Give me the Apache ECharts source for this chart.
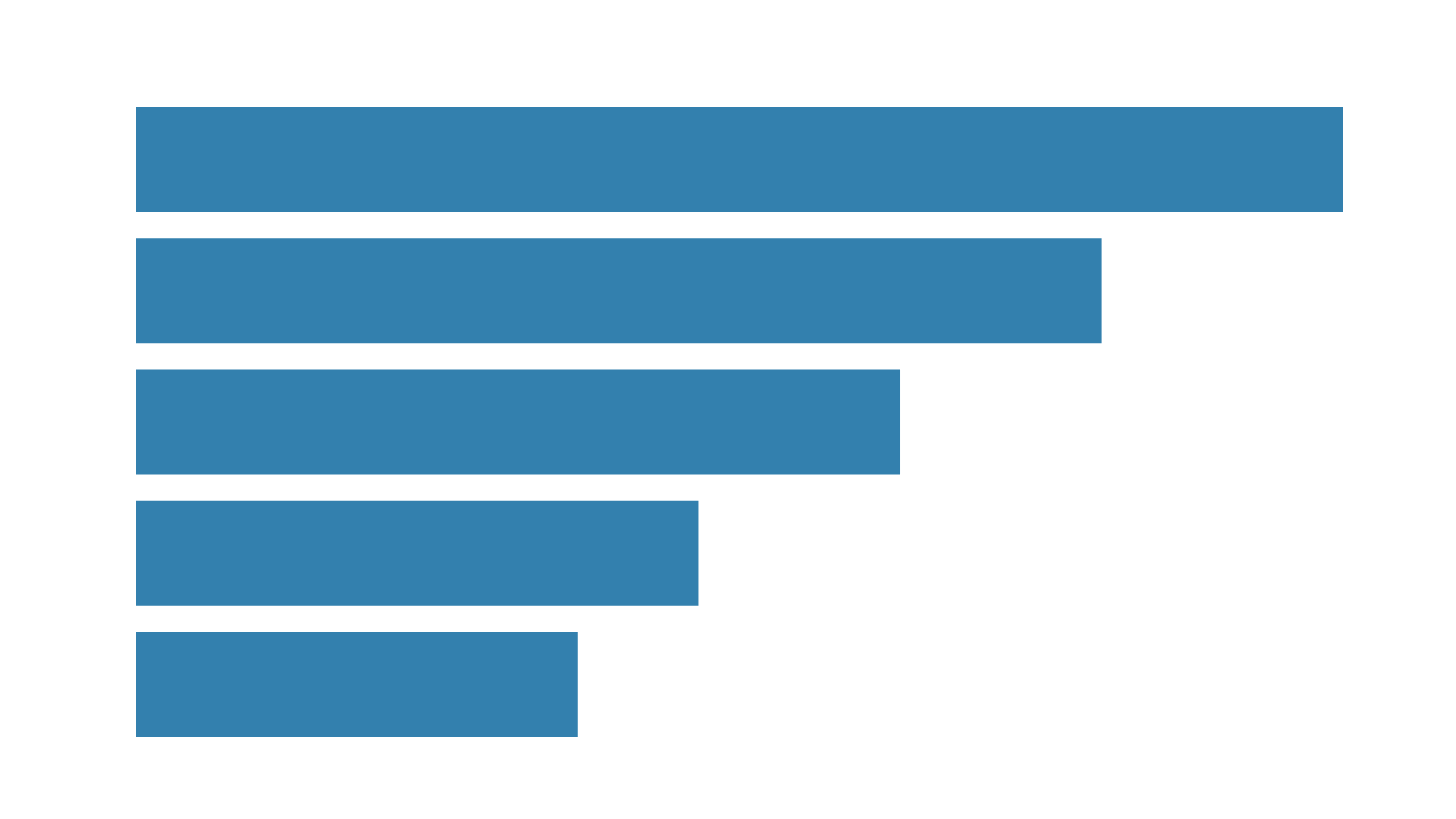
<!DOCTYPE html>
<html>
<head>
<meta charset="utf-8">
<script src="https://cdn.jsdelivr.net/npm/echarts@6/dist/echarts.min.js"></script>
<style>
html,body{margin:0;padding:0;background:#fff;}
#chart{width:1456px;height:819px;}
</style>
</head>
<body>
<div id="chart"></div>
<script>
var categories = ['A', 'B', 'C', 'D', 'E'];
var values = [100, 80, 63.3, 46.6, 36.6];
var axisMax = 100;

var chart = echarts.init(document.getElementById('chart'), null, {renderer: 'canvas'});
chart.setOption({
  animation: false,
  backgroundColor: '#ffffff',
  grid: {left: 136, right: 113, top: 94, bottom: 69, containLabel: false},
  xAxis: {
    type: 'value', min: 0, max: axisMax,
    show: false
  },
  yAxis: {
    type: 'category', data: categories, inverse: true,
    show: false
  },
  series: [{
    type: 'bar',
    data: values,
    barCategoryGap: '20%',
    itemStyle: {color: '#3380ae'}
  }]
});
</script>
</body>
</html>
